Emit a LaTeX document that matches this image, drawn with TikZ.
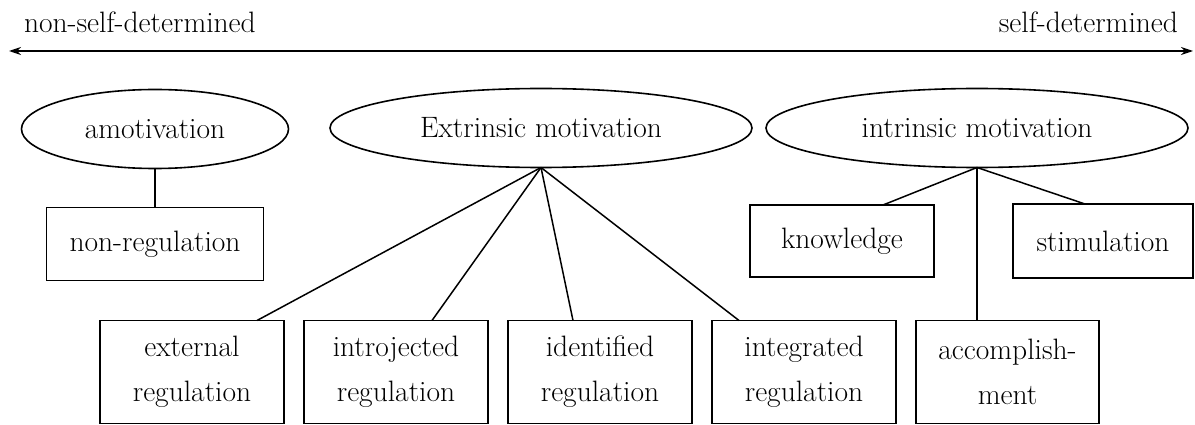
\documentclass[tikz,border=0pt]{standalone}
\usetikzlibrary{arrows.meta,shapes.geometric,positioning}
\begin{document}
\begin{tikzpicture}[x=1pt,y=1pt]
		\fontsize{29.5}{45}\selectfont
		\newcommand\bgap{20pt}
		\newcommand\drop{39pt}
		\newcommand\sgap{79pt}
		\newcommand\boxw{184pt}
		\tikzset{
		every node/.style = {inner sep=0pt, outer sep=0pt},
		motiv/.style = {draw, ellipse, line width=1.6pt, minimum height=79pt},
		regbox/.style = {draw, rectangle, line width=1.6pt, align=center,
			minimum width=\boxw, font=\fontsize{29.5}{45}\selectfont},
		lowbox/.style = {regbox, minimum height=103pt},
		link/.style = {line width=1.5pt},
		}
		\useasboundingbox (0,0) rectangle (1195,-425);
		% self-determination scale
		\coordinate (lend) at (9,-51);
		\coordinate (rend) at (1193,-51);
		\node [anchor=base west] (nonself) at (24,-33) {non-self-determined};
		\node [anchor=base east] (self) at (1178,-33) {self-determined};
		% types of motivation
		\node [motiv, minimum width=267pt] (amot) at (155,-129) {amotivation};
		\node [motiv, minimum width=422pt] (extr) at (541,-128) {Extrinsic motivation};
		\node [motiv, minimum width=422pt] (intr) at (977,-128) {intrinsic motivation};
		% regulatory styles
		\node [regbox, below=\drop of amot, minimum width=217pt, minimum height=73pt] (nonreg) {non-regulation};
		\node [lowbox] (ext) at (192,-372) {external\\regulation};
		\node [lowbox, right=\bgap of ext] (intro) {introjected\\regulation};
		\node [lowbox, right=\bgap of intro] (ident) {identified\\regulation};
		\node [lowbox, right=\bgap of ident] (integ) {integrated\\regulation};
		\node [lowbox, right=\bgap of integ, minimum width=183pt] (accomp) {accomplish-\\ment};
		% intrinsic subtypes
		\node [regbox, minimum height=72pt] (know) at (842,-241) {knowledge};
		\node [regbox, right=\sgap of know, minimum width=180pt, minimum height=74pt] (stim) {stimulation};

		\draw [line width=1.5pt, {Stealth[length=12pt,width=8pt]}-{Stealth[length=12pt,width=8pt]}] (lend) -- (rend);
		\draw [link] (amot.south) -- (amot.south |- nonreg.north);
		\draw [link] (extr.south) -- ([xshift=65pt]ext.north);
		\draw [link] (extr.south) -- ([xshift=36pt]intro.north);
		\draw [link] (extr.south) -- ([xshift=-27pt]ident.north);
		\draw [link] (extr.south) -- ([xshift=-65pt]integ.north);
		\draw [link] (intr.south) -- ([xshift=41pt]know.north);
		\draw [link] (intr.south) -- (intr.south |- accomp.north);
		\draw [link] (intr.south) -- ([xshift=-18pt]stim.north);
	\end{tikzpicture}
\end{document}
